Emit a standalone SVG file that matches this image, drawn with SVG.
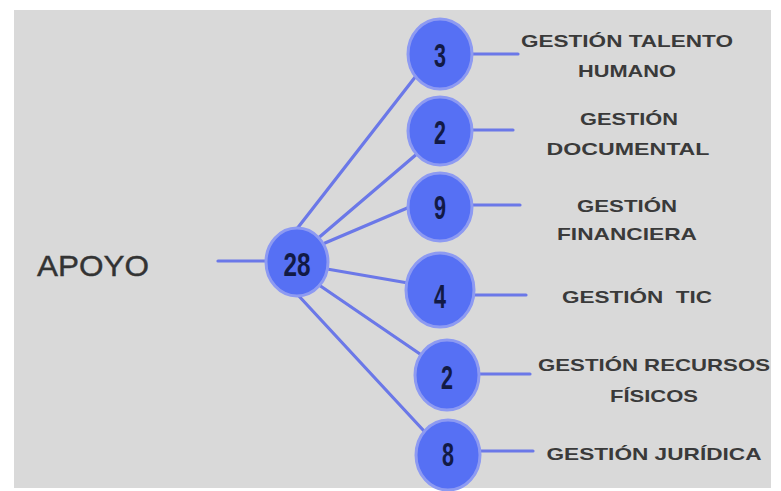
<svg xmlns="http://www.w3.org/2000/svg" width="781" height="491" viewBox="0 0 781 491">
<style>
.bg{fill:#d9d9d9}
.c{fill:#5670f4;stroke:#8d9af2;stroke-width:3}
.n{font-family:"Liberation Sans",Arial,sans-serif;font-weight:bold;font-size:34px;fill:#121a45;text-anchor:middle}
.l{font-family:"Liberation Sans",Arial,sans-serif;font-weight:bold;font-size:17px;fill:#3a3a3a;text-anchor:middle}
.t{font-family:"Liberation Sans",Arial,sans-serif;font-size:29px;fill:#333333;stroke:#333333;stroke-width:0.4}
.e{stroke:#6b78e8;stroke-width:3.2;fill:none;stroke-linecap:round}
</style>
<rect x="0" y="0" width="781" height="491" fill="#ffffff"/>
<rect class="bg" x="14" y="10" width="757" height="478"/>
<g id="connectors">
<line class="e" x1="218" y1="261" x2="266" y2="261"/>
<line class="e" x1="296" y1="230" x2="416" y2="76"/>
<line class="e" x1="316" y1="240" x2="418" y2="153"/>
<line class="e" x1="325" y1="243" x2="412" y2="206"/>
<line class="e" x1="327" y1="269" x2="408" y2="283"/>
<line class="e" x1="319" y1="285" x2="420" y2="354"/>
<line class="e" x1="297" y1="294" x2="424" y2="431"/>
<line class="e" x1="472" y1="54" x2="518" y2="54"/>
<line class="e" x1="472" y1="130" x2="513" y2="130"/>
<line class="e" x1="472" y1="205" x2="520" y2="205"/>
<line class="e" x1="474" y1="295" x2="526" y2="295"/>
<line class="e" x1="479" y1="374" x2="530" y2="374"/>
<line class="e" x1="480" y1="451" x2="533" y2="451"/>
</g>
<g id="apoyo">
<text class="t" x="37" y="276" textLength="112" lengthAdjust="spacingAndGlyphs">APOYO</text>
</g>
<g id="n28">
<ellipse class="c" cx="297" cy="262" rx="31" ry="34"/>
<text class="n" x="297" y="276" textLength="27" lengthAdjust="spacingAndGlyphs">28</text>
</g>
<g id="n3">
<ellipse class="c" cx="440" cy="54" rx="32" ry="35"/>
<text class="n" x="440" y="67" textLength="12" lengthAdjust="spacingAndGlyphs">3</text>
</g>
<g id="n2a">
<ellipse class="c" cx="440" cy="131" rx="32" ry="34"/>
<text class="n" x="440" y="144" textLength="12" lengthAdjust="spacingAndGlyphs">2</text>
</g>
<g id="n9">
<ellipse class="c" cx="440" cy="207" rx="32" ry="34"/>
<text class="n" x="440" y="219" textLength="12" lengthAdjust="spacingAndGlyphs">9</text>
</g>
<g id="n4">
<ellipse class="c" cx="440" cy="290" rx="34" ry="37"/>
<text class="n" x="440" y="308" textLength="12" lengthAdjust="spacingAndGlyphs">4</text>
</g>
<g id="n2b">
<ellipse class="c" cx="447" cy="375" rx="32" ry="35"/>
<text class="n" x="447" y="389" textLength="12" lengthAdjust="spacingAndGlyphs">2</text>
</g>
<g id="n8">
<ellipse class="c" cx="448" cy="455" rx="32" ry="35"/>
<text class="n" x="448" y="466" textLength="12" lengthAdjust="spacingAndGlyphs">8</text>
</g>
<g id="labels">
<text class="l" x="627" y="47" textLength="212" lengthAdjust="spacingAndGlyphs">GESTIÓN TALENTO</text>
<text class="l" x="627" y="77" textLength="98" lengthAdjust="spacingAndGlyphs">HUMANO</text>
<text class="l" x="629" y="125" textLength="98" lengthAdjust="spacingAndGlyphs">GESTIÓN</text>
<text class="l" x="628" y="155" textLength="163" lengthAdjust="spacingAndGlyphs">DOCUMENTAL</text>
<text class="l" x="627" y="212" textLength="100" lengthAdjust="spacingAndGlyphs">GESTIÓN</text>
<text class="l" x="627" y="240" textLength="140" lengthAdjust="spacingAndGlyphs">FINANCIERA</text>
<text class="l" x="637" y="303" textLength="150" lengthAdjust="spacingAndGlyphs" xml:space="preserve" style="white-space:pre">GESTIÓN  TIC</text>
<text class="l" x="654" y="371" textLength="232" lengthAdjust="spacingAndGlyphs">GESTIÓN RECURSOS</text>
<text class="l" x="654" y="402" textLength="88" lengthAdjust="spacingAndGlyphs">FÍSICOS</text>
<text class="l" x="654" y="460" textLength="215" lengthAdjust="spacingAndGlyphs">GESTIÓN JURÍDICA</text>
</g>
</svg>
